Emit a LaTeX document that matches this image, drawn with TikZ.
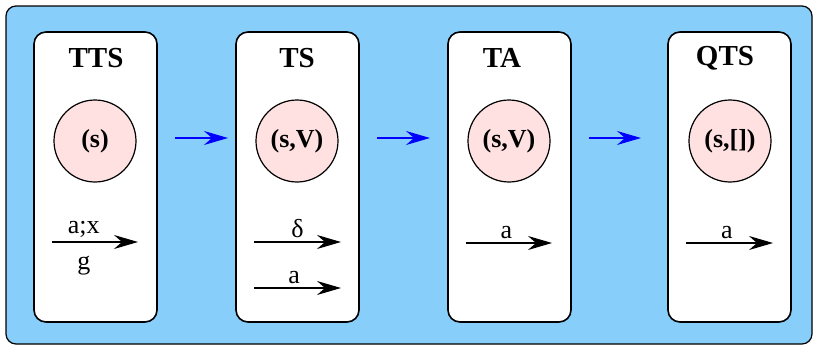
\documentclass[tikz,border=0pt]{standalone}
\usepackage{fontspec}
\setmainfont{Liberation Serif}
\usetikzlibrary{arrows.meta,positioning}
\definecolor{skyback}{HTML}{87CEFA}
\definecolor{statepink}{HTML}{FFE1E1}

\begin{document}
\begin{tikzpicture}[
    x=0.5pt, y=-0.5pt,
    >=Stealth,
    panel/.style={draw, fill=white, rounded corners=6pt, line width=0.8pt, minimum width=61.5pt, minimum height=145pt, inner sep=0pt},
    state/.style={draw, circle, fill=statepink, line width=0.6pt, minimum size=41pt, inner sep=0pt, font=\bfseries\fontsize{13}{15}\selectfont},
    title/.style={font=\bfseries\fontsize{14.5}{16}\selectfont},
    lbl/.style={font=\fontsize{13}{15}\selectfont, inner sep=2pt},
    trans/.style={-{Stealth[length=12pt, width=7pt, inset=4pt]}, line width=0.65pt},
    flow/.style={-{Stealth[length=12pt, width=7pt, inset=4pt]}, blue, line width=0.65pt}
]
\useasboundingbox (0,0) rectangle (815,348);
\draw[fill=skyback, rounded corners=5pt, line width=0.6pt] (6,6) rectangle (812,344);

% panels
\node[panel] (tts) at (95.5,177) {};
\node[panel] (ts) at (297.5,177) {};
\node[panel] (ta) at (509.5,177) {};
\node[panel] (qts) at (729.5,177) {};

\node[title] (ttsname) at (96,58) {TTS};
\node[title] (tsname) at (297,58) {TS};
\node[title] (taname) at (502,58) {TA};
\node[title] (qtsname) at (725,58) {QTS};

% states
\node[state] (ttsstate) at (95,141) {(s)};
\node[state] (tsstate) at (297,141) {(s,V)};
\node[state] (tastate) at (509,141) {(s,V)};
\node[state] (qtsstate) at (730,141) {(s,[])};

% transitions
\coordinate (ttsa) at (52,242);
\coordinate (ttsb) at (138,242);
\draw[trans] (ttsa) -- node[lbl, above, pos=0.37] {a;x} node[lbl, below, pos=0.37, yshift=-5pt] {g} (ttsb);

\coordinate (tsda) at (254,242);
\coordinate (tsdb) at (341,242);
\draw[trans] (tsda) -- node[lbl, above] {δ} (tsdb);
\coordinate (tsaa) at (254,288);
\coordinate (tsab) at (341,288);
\draw[trans] (tsaa) -- node[lbl, above, pos=0.46] {a} (tsab);

\coordinate (taa) at (466,243);
\coordinate (tab) at (552,243);
\draw[trans] (taa) -- node[lbl, above, pos=0.47] {a} (tab);

\coordinate (qtsa) at (686,243);
\coordinate (qtsb) at (773,243);
\draw[trans] (qtsa) -- node[lbl, above, pos=0.47] {a} (qtsb);

% refinement steps
\coordinate (f1a) at (175,138);
\coordinate (f1b) at (228,138);
\coordinate (f2a) at (377,138);
\coordinate (f2b) at (430,138);
\coordinate (f3a) at (589,138);
\coordinate (f3b) at (641,138);
\draw[flow] (f1a) -- (f1b);
\draw[flow] (f2a) -- (f2b);
\draw[flow] (f3a) -- (f3b);
\end{tikzpicture}
\end{document}
